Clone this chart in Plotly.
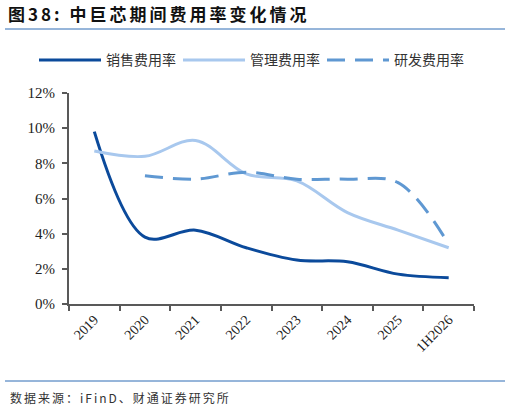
import plotly.graph_objects as go

# data (percent)
years = ["2019", "2020", "2021", "2022", "2023", "2024", "2025", "1H2026"]
sales_rate = [9.8, 3.8, 4.2, 3.2, 2.5, 2.4, 1.7, 1.5]
admin_rate = [8.7, 8.4, 9.3, 7.4, 7.0, 5.2, 4.2, 3.2]
rd_rate = [None, 7.3, 7.1, 7.5, 7.1, 7.1, 6.9, 3.4]
y_ticks = [0, 2, 4, 6, 8, 10, 12]

serif = "Liberation Serif, Times New Roman, serif"
cjk = "Noto Sans CJK SC, sans-serif"

fig = go.Figure()

fig.add_trace(go.Scatter(
    x=years, y=sales_rate, name="销售费用率", mode="lines",
    line=dict(color="#0b4a9b", width=3, shape="spline", smoothing=1.0),
))
fig.add_trace(go.Scatter(
    x=years, y=admin_rate, name="管理费用率", mode="lines",
    line=dict(color="#a8c8ee", width=3, shape="spline", smoothing=1.0),
))
fig.add_trace(go.Scatter(
    x=years, y=rd_rate, name="研发费用率", mode="lines",
    line=dict(color="#5f98d2", width=3, shape="spline", smoothing=1.0, dash="18px,10px"),
))

fig.update_xaxes(
    type="category", range=[-0.5, len(years) - 0.5], automargin=False,
    showline=True, linecolor="#595959", linewidth=2,
    ticks="outside", tickson="boundaries", ticklen=5, tickcolor="#595959", tickwidth=2,
    tickangle=-45,
    tickfont=dict(family=serif, size=14, color="#222222"),
    showgrid=False, zeroline=False,
)
fig.update_yaxes(
    range=[0, 12], tickvals=y_ticks, ticktext=[f"{v}%" for v in y_ticks],
    automargin=False, ticklabelstandoff=4,
    showline=True, linecolor="#595959", linewidth=2,
    ticks="outside", ticklen=5, tickcolor="#595959", tickwidth=2,
    tickfont=dict(family=serif, size=15, color="#222222"),
    showgrid=False, zeroline=False,
)

fig.update_layout(
    width=510, height=410,
    margin=dict(l=69, r=36, t=93, b=106, autoexpand=False),
    plot_bgcolor="white", paper_bgcolor="white",
    title=dict(
        text="<b>图38: 中巨芯期间费用率变化情况</b>",
        x=8 / 510, xanchor="left", xref="container", yref="container",
        y=1 - 15 / 410, yanchor="middle",
        font=dict(family=cjk, size=17, color="#111111"),
    ),
    legend=dict(
        orientation="h", x=-0.0864, xanchor="left", y=1.155, yanchor="middle",
        font=dict(family=cjk, size=14, color="#333333"),
        itemwidth=62, entrywidth=67, bgcolor="rgba(0,0,0,0)",
    ),
    showlegend=True,
    shapes=[
        dict(type="line", xref="paper", yref="paper",
             x0=-64 / 405, x1=436 / 405, y0=(304 - 29) / 211, y1=(304 - 29) / 211,
             line=dict(color="#2f6db5", width=1)),
        dict(type="line", xref="paper", yref="paper",
             x0=-64 / 405, x1=436 / 405, y0=(304 - 381) / 211, y1=(304 - 381) / 211,
             line=dict(color="#2f6db5", width=1)),
    ],
    annotations=[
        # x nudged right by half of the extra letter spacing added below
        dict(text="数据来源：iFinD、财通证券研究所", xref="paper", yref="paper",
             x=-43 / 405, y=(304 - 397) / 211, xanchor="left", yanchor="middle",
             showarrow=False, font=dict(family=cjk, size=12, color="#333333")),
    ],
)

# drop the page margin; widen the letter spacing of title and source line
post = """
document.body.style.margin='0';
var t = document.querySelector('.gtitle'); if (t) t.style.letterSpacing='3px';
document.querySelectorAll('.annotation-text').forEach(function(e){ e.style.letterSpacing='2px'; });
"""
fig.write_html("out.html", post_script=post, config={"displayModeBar": False})
